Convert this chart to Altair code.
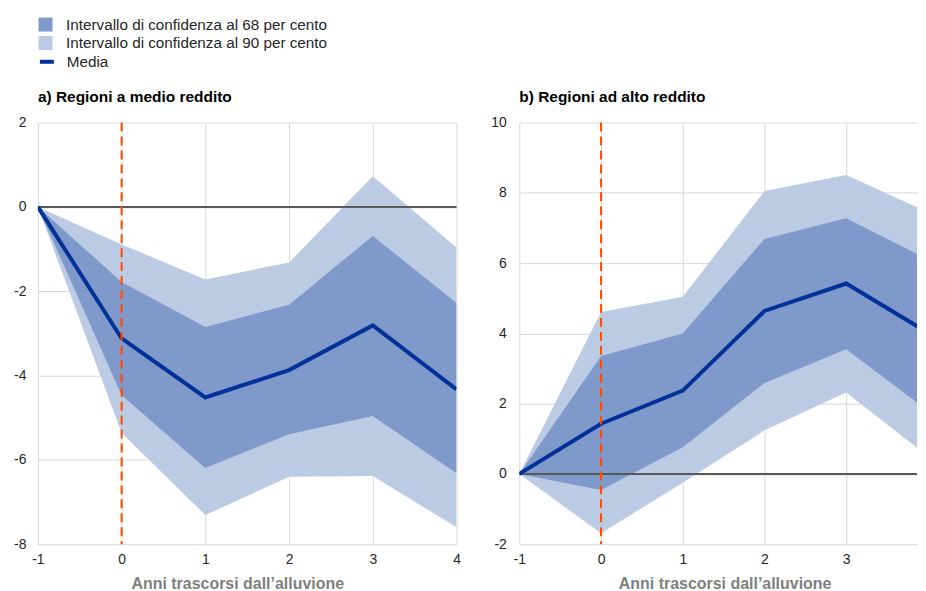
import altair as alt
import pandas as pd

# ---------------- data ----------------
anni = [-1, 0, 1, 2, 3, 4]

a_media = [0, -3.12, -4.52, -3.87, -2.81, -4.33]
a_lo68 = [0, -4.47, -6.19, -5.39, -4.96, -6.32]
a_hi68 = [0, -1.78, -2.85, -2.32, -0.69, -2.28]
a_lo90 = [0, -5.36, -7.31, -6.40, -6.38, -7.60]
a_hi90 = [0, -0.89, -1.72, -1.32, 0.73, -0.96]

b_media = [0, 1.43, 2.37, 4.64, 5.42, 4.02]
b_lo68 = [0, -0.46, 0.76, 2.59, 3.55, 1.80]
b_hi68 = [0, 3.36, 4.00, 6.69, 7.28, 6.10]
b_lo90 = [0, -1.69, -0.25, 1.24, 2.32, 0.50]
b_hi90 = [0, 4.61, 5.04, 8.05, 8.51, 7.45]

LAB68 = "Intervallo di confidenza al 68 per cento"
LAB90 = "Intervallo di confidenza al 90 per cento"
LABM = "Media"
XTITLE = "Anni trascorsi dall\u2019alluvione"

titoli = ["a) Regioni a medio reddito", "b) Regioni ad alto reddito"]
a_yticks = [-8, -6, -4, -2, 0, 2]
b_yticks = [-2, 0, 2, 4, 6, 8, 10]

C68 = "#7f99cb"
C90 = "#bccbe4"
CMEAN = "#003299"
CZERO = "#595959"
CDASH = "#ff4b00"
FONT = "Liberation Sans"
LABEXPR = "'' + datum.value"


def bands_df(lo68, hi68, lo90, hi90):
    rows = []
    for x, l, h in zip(anni, lo90, hi90):
        rows.append({"x": x, "lo": l, "hi": h, "banda": LAB90})
    for x, l, h in zip(anni, lo68, hi68):
        rows.append({"x": x, "lo": l, "hi": h, "banda": LAB68})
    return pd.DataFrame(rows)


def panel(title, media, lo68, hi68, lo90, hi90, ydom, yticks, width, xmax, xticks, labpad, tx):
    bands = bands_df(lo68, hi68, lo90, hi90)
    mean = pd.DataFrame({"x": anni, "y": media, "serie": [LABM] * len(anni)})
    xscale = alt.Scale(domain=[-1, xmax], nice=False, zero=False)
    yscale = alt.Scale(domain=ydom, nice=False, zero=False)
    xaxis = alt.Axis(values=xticks, title=XTITLE, grid=True, domain=False, ticks=False,
                     labelFlush=False, labelPadding=8, titlePadding=9, titleX=tx,
                     labelExpr=LABEXPR)
    yaxis = alt.Axis(values=yticks, title=None, grid=True, domain=False, ticks=False,
                     labelPadding=labpad, labelExpr=LABEXPR)
    color = alt.Color("banda:N",
                      scale=alt.Scale(domain=[LAB68, LAB90], range=[C68, C90]),
                      legend=alt.Legend(orient="none", legendX=0, legendY=-106, title=None,
                                        symbolType="square", symbolSize=196,
                                        symbolStrokeWidth=0, labelOffset=13,
                                        rowPadding=2.5, padding=0))
    base = alt.Chart(bands)
    a90 = base.transform_filter(alt.datum.banda == LAB90).mark_area(clip=True, opacity=1).encode(
        x=alt.X("x:Q", scale=xscale, axis=xaxis),
        y=alt.Y("lo:Q", scale=yscale, axis=yaxis),
        y2="hi:Q",
        color=color,
    )
    a68 = base.transform_filter(alt.datum.banda == LAB68).mark_area(clip=True, opacity=1).encode(
        x="x:Q", y="lo:Q", y2="hi:Q", color=color
    )
    zero = alt.Chart(pd.DataFrame({"y": [0]})).mark_rule(color=CZERO, strokeWidth=2).encode(
        y="y:Q"
    )
    line = alt.Chart(mean).mark_line(strokeWidth=4, clip=True).encode(
        x="x:Q", y="y:Q",
        stroke=alt.Stroke("serie:N", scale=alt.Scale(domain=[LABM], range=[CMEAN]),
                          legend=alt.Legend(orient="none", legendX=0, legendY=-70, title=None,
                                            symbolType="stroke", symbolSize=196,
                                            symbolStrokeWidth=4, labelOffset=11, padding=0)),
    )
    dash = alt.Chart(pd.DataFrame({"x": [0]})).mark_rule(
        color=CDASH, strokeWidth=2, strokeDash=[9, 5]
    ).encode(x="x:Q")
    return alt.layer(a90, a68, zero, line, dash).properties(
        width=width, height=423,
        title=alt.TitleParams(title, anchor="start", frame="group", fontSize=15.5,
                              fontWeight="bold", font=FONT, color="#000000", offset=10),
    )


left = panel(titoli[0], a_media, a_lo68, a_hi68, a_lo90, a_hi90, [-8, 2], a_yticks,
             420, 4, [-1, 0, 1, 2, 3, 4], 12, 200)
right = panel(titoli[1], b_media, b_lo68, b_hi68, b_lo90, b_hi90, [-2, 10], b_yticks,
              399, 3.866, [-1, 0, 1, 2, 3], 13, 206)

chart = alt.hconcat(left, right, spacing=30).properties(
    padding={"left": 5, "top": 8, "right": 0, "bottom": 0}
).configure_view(stroke=None).configure_axis(
    labelFont=FONT, labelFontSize=14, labelColor="#262626",
    titleFont=FONT, titleFontSize=16, titleFontWeight="bold", titleColor="#7f7f7f",
    gridColor="#d9d9d9", gridWidth=1,
).configure_legend(
    labelFont=FONT, labelFontSize=15.3, labelColor="#262626", labelLimit=400,
)

chart.save("out.html", embed_options={"renderer": "svg", "actions": False})
